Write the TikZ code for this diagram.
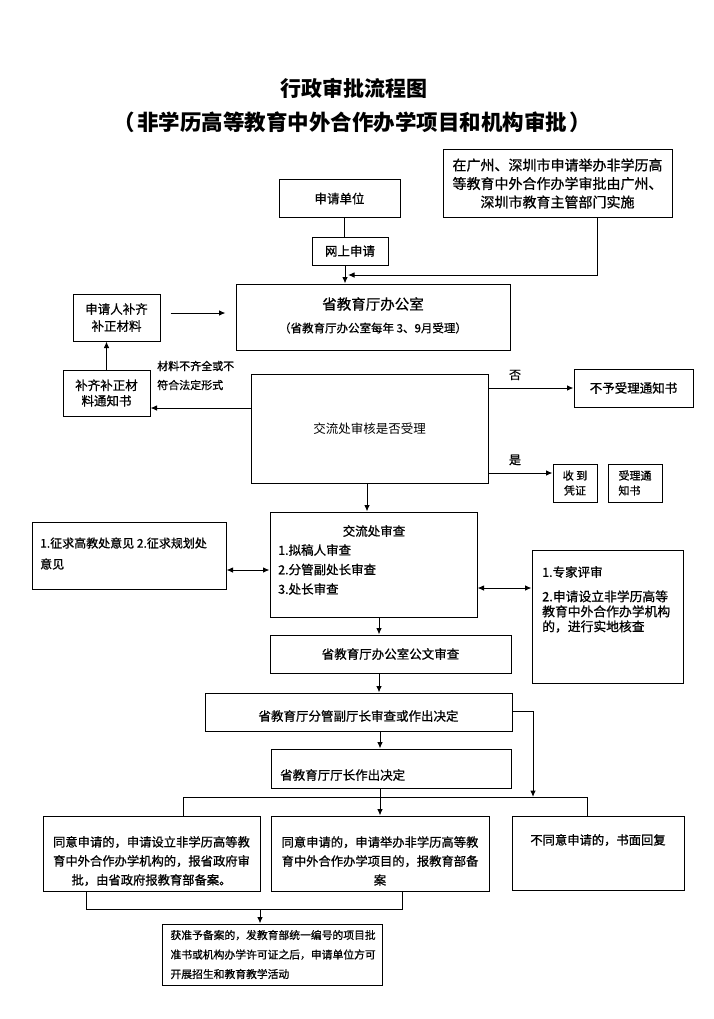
\documentclass[tikz,border=0pt]{standalone}
\usepackage{fontspec}
\newfontfamily\cjkl{Noto Sans CJK SC}
\newfontfamily\cjk[FakeBold=0.8]{Noto Sans CJK SC}
\usetikzlibrary{arrows.meta}
\newcommand{\fsz}[2]{\fontsize{#1}{#2}\selectfont}
\begin{document}
\begin{tikzpicture}[x=1pt,y=-1pt,
  every node/.style={font=\cjk\fsz{12}{19}, inner sep=0pt},
  box/.style={draw, line width=1pt, align=center},
  arr/.style={-{Latex[length=6.5pt,width=5.5pt]}, line width=1pt},
  dbl/.style={{Latex[length=6.5pt,width=5.5pt]}-{Latex[length=6.5pt,width=5.5pt]}, line width=1pt},
  ln/.style={line width=1pt}]
\fill[white] (0,0) rectangle (714,1019);
\useasboundingbox (0,0) rectangle (714,1019);

% titles
\node[font=\cjkl\bfseries\fsz{21}{24}] (title) at (354,88) {行政审批流程图};
\node[font=\cjkl\bfseries\fsz{21.5}{24}] (subtitle) at (352,122) {（\hspace{3pt}非学历高等教育中外合作办学项目和机构审批\hspace{2pt}）};

% top
\node[box, minimum width=121, minimum height=37, font=\cjk\fsz{12.5}{15}] (shenqing) at (339.5,198.5) {申请单位};
\node[box, minimum width=229, minimum height=67, font=\cjk\fsz{14}{18.5}] (gz) at (557.5,183.5) {在广州、深圳市申请举办非学历高\\等教育中外合作办学审批由广州、\\深圳市教育主管部门实施};
\node[box, minimum width=76, minimum height=28, font=\cjk\fsz{12.5}{15}] (wangshang) at (350,251) {网上申请};

\node[box, minimum width=274, minimum height=66] (office) at (373,317) {};
\node[font=\cjk\fsz{14.5}{16}] (officeT1) at (373,304) {省教育厅办公室};
\node[font=\cjk\fsz{11.5}{14}] (officeT2) at (373,328) {（省教育厅办公室每年 3、9月受理）};

\node[box, minimum width=87, minimum height=47, font=\cjk\fsz{12.5}{17}] (buqi1) at (116.5,317.5) {申请人补齐\\补正材料};
\node[box, minimum width=87, minimum height=46, font=\cjk\fsz{12.5}{15.5}] (buqi2) at (106.5,393) {补齐补正材\\料通知书};
\node[anchor=west, align=left, font=\cjk\fsz{11}{19}] (bqlabel) at (157,375.5) {材料不齐全或不\\符合法定形式};

\node[box, minimum width=237, minimum height=109, font=\cjkl\fsz{12.5}{15}] (review) at (369.5,428.5) {交流处审核是否受理};
\node[box, minimum width=119, minimum height=38, font=\cjk\fsz{12.5}{15}] (buyu) at (633.5,388) {不予受理通知书};
\node (fou) at (515,375) {否};
\node (shi) at (515,460) {是};
\node[box, minimum width=44, minimum height=38, font=\cjk\fsz{11}{15}] (shoudao) at (575,483) {收 到\\凭证};
\node[box, align=left, minimum width=54, minimum height=38, font=\cjk\fsz{11}{15}] (shouli) at (635,483) {受理通\\知书};

% review stage
\node[box, minimum width=207, minimum height=105] (jlc) at (373.5,564.5) {};
\node[font=\cjk\fsz{12.5}{15}] (jlcT) at (374,531) {交流处审查};
\node[anchor=west, align=left, font=\cjk\fsz{12.5}{19.5}] (jlcL) at (278,569.5) {1.拟稿人审查\\2.分管副处长审查\\3.处长审查};

\node[box, minimum width=194, minimum height=67] (zq) at (129,555.5) {};
\node[anchor=west, align=left, font=\cjk\fsz{12}{21}] (zqT) at (40,553.5) {1.征求高教处意见 2.征求规划处\\意见};

\node[box, minimum width=151, minimum height=133] (zj) at (607.5,616.5) {};
\node[anchor=west, font=\cjk\fsz{12.5}{15}] (zjT1) at (542,572) {1.专家评审};
\node[anchor=west, align=left, font=\cjk\fsz{12.8}{15}] (zjT2) at (542,611.5) {2.申请设立非学历高等\\教育中外合作办学机构\\的，进行实地核查};

\node[box, minimum width=241, minimum height=38, font=\cjk\fsz{12.5}{15}] (gw) at (390.5,654) {省教育厅办公室公文审查};
\node[box, minimum width=307, minimum height=38] (fg) at (358.5,712) {};
\node[font=\cjk\fsz{12.5}{15}] (fgT) at (358.5,716) {省教育厅分管副厅长审查或作出决定};
\node[box, minimum width=240, minimum height=39] (tz) at (391,768.5) {};
\node[anchor=west, font=\cjk\fsz{12.5}{15}] (tzT) at (280,775) {省教育厅厅长作出决定};

% bottom boxes
\node[box, minimum width=217, minimum height=75] (lb) at (151.5,853.5) {};
\node[align=center, font=\cjk\fsz{12.3}{19}] (lbT) at (151.5,861) {同意申请的，申请设立非学历高等教\\育中外合作办学机构的，报省政府审\\批，由省政府报教育部备案。};
\node[box, minimum width=218, minimum height=75] (mb) at (380,853.5) {};
\node[align=center, font=\cjk\fsz{12.3}{19}] (mbT) at (380,861) {同意申请的，申请举办非学历高等教\\育中外合作办学项目的，报教育部备\\案};
\node[box, minimum width=172, minimum height=74] (rb) at (598,853) {};
\node[font=\cjk\fsz{12.3}{15}] (rbT) at (598,840) {不同意申请的，书面回复};

\node[box, minimum width=220, minimum height=61, align=left, text width=203, font=\cjk\fsz{10.8}{19.5}] (fin) at (272,954.5) {获准予备案的，发教育部统一编号的项目批\\准书或机构办学许可证之后，申请单位方可\\开展招生和教育教学活动};

% connectors
\coordinate (y313) at (0,313);
\coordinate (y408) at (0,408);
\coordinate (y473) at (0,473);
\coordinate (y570) at (0,570);
\coordinate (y588) at (0,588);
\coordinate (y711) at (0,711);
\coordinate (y909) at (0,909);
\coordinate (x379) at (379,0);
\coordinate (x380) at (380,0);
\coordinate (x260) at (260,0);
\coordinate (bl) at (86,0);
\coordinate (bm) at (402,0);
\coordinate (hl) at (183,797);
\coordinate (hr) at (587,797);
\coordinate (br) at (533,797);
\coordinate (g2) at (348,275);

\draw[ln] ([xshift=4.5]shenqing.south) -- ([xshift=-6]wangshang.north);
\coordinate (w1) at ([xshift=-5]wangshang.south);
\draw[arr] (w1) -- (w1 |- office.north);
\coordinate (g1) at ([xshift=39.5]gz.south);
\draw[arr] (g1) |- (g2);

\draw[arr, shorten <=10pt, shorten >=10pt] (buqi1.east |- y313) -- (office.west |- y313);
\draw[arr] (buqi2.north) -- (buqi2.north |- buqi1.south);
\draw[arr] (review.west |- y408) -- (buqi2.east |- y408);

\draw[arr] (review.east |- buyu.west) -- (buyu.west);
\draw[arr] (review.east |- y473) -- (shoudao.west |- y473);

\coordinate (r1) at ([xshift=-2.5]review.south);
\draw[arr] (r1) -- (r1 |- jlc.north);
\draw[dbl] (zq.east |- y570) -- (jlc.west |- y570);
\draw[dbl] (jlc.east |- y588) -- (zj.west |- y588);
\draw[arr] (jlc.south -| x379) -- (gw.north -| x379);
\draw[arr] (gw.south -| x379) -- (fg.north -| x379);
\draw[arr] (fg.south -| x380) -- (tz.north -| x380);
\draw[arr] (fg.east |- y711) -| (br);
\draw[ln] (lb.north -| hl) |- (hr) -- (rb.north -| hr);
\draw[arr] (tz.south -| x380) -- (mb.north -| x380);
\draw[ln] (lb.south -| bl) |- (bm |- y909) -- (mb.south -| bm);
\draw[arr] (x260 |- y909) -- (fin.north -| x260);
\end{tikzpicture}
\end{document}
